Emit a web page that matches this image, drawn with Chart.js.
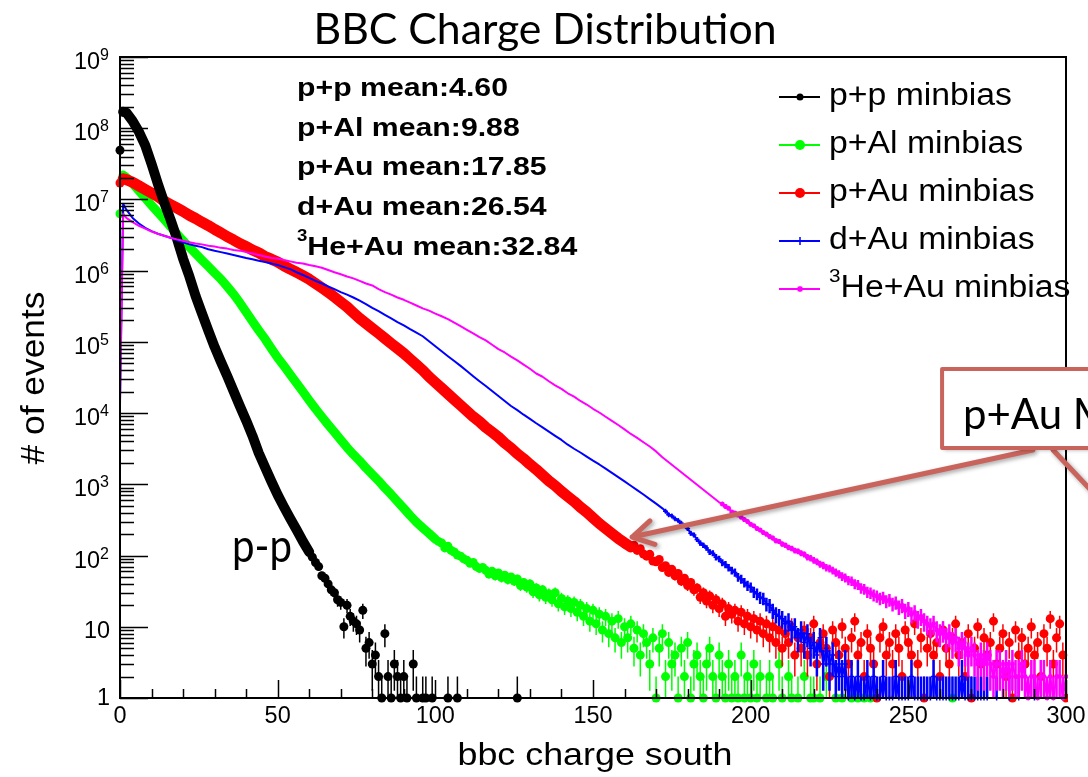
<!DOCTYPE html>
<html>
<head>
<meta charset="utf-8">
<title>BBC Charge Distribution</title>
<script src="https://cdn.jsdelivr.net/npm/chart.js@4.4.1/dist/chart.umd.min.js"></script>
<style>
  html, body { margin: 0; padding: 0; background: #ffffff; }
  canvas { display: block; }
</style>
</head>
<body>
<canvas id="bbc" width="1088" height="777"></canvas>
<script>
// ---- values: bbc charge south (x) vs # of events (y) ----

// p+p : smooth part drawn as a thick curve, the rest as markers with errors
const ppCurveX = [1, 2, 4, 6, 8, 10, 12, 14, 16, 18, 20, 22, 24, 26, 28, 30, 32, 34, 36, 38, 40,
  42, 44, 46, 48, 50, 52, 54, 56, 58, 60];
const ppCurveN = [1.7e8, 1.66e8, 1.26e8, 8.9e7, 5.75e7, 3.16e7, 1.66e7, 9.1e6, 5.25e6, 2.88e6, 1.48e6,
  8.3e5, 4.37e5, 2.51e5, 1.45e5, 8.5e4, 5.25e4, 3.31e4, 2.04e4, 1.26e4, 7.9e3,
  4.8e3, 2.75e3, 1.74e3, 1.1e3, 710, 480, 330, 230, 158, 112];
const ppPointX = [0, 60, 61, 62, 63, 64, 65, 66, 67, 68, 69, 70, 71, 72, 73, 74, 75, 76, 77, 78, 79,
  80, 81, 82, 83, 84, 85, 86, 87, 88, 89, 90, 91, 93, 94, 96, 97, 99, 104, 107, 126];
const ppPointN = [4.9e7, 112, 95, 80, 70, 52, 48, 40, 33, 30, 24, 22, 10, 20, 14, 12, 11, 9, 17, 5, 6,
  3, 4, 2, 1, 8, 2, 1, 3, 2, 1, 2, 1, 3, 1, 1, 1, 1, 1, 1, 1];

// p+Al
const alCurveX = [1, 2, 4, 6, 8, 10, 12, 14, 16, 18, 20, 22, 24, 26, 28, 30, 32, 34, 36, 38, 40,
  42, 44, 46, 48, 50, 52, 54, 56, 58, 60, 62, 64, 66, 68, 70, 72, 74, 76, 78, 80,
  82, 84, 86, 88, 90, 92, 94, 96, 98, 100];
const alCurveN = [2.2e7, 2.04e7, 1.66e7, 1.32e7, 1.05e7, 8.3e6, 6.6e6, 5.25e6, 4.17e6, 3.31e6, 2.63e6,
  2.14e6, 1.74e6, 1.41e6, 1.15e6, 9.3e5, 7.6e5, 6.0e5, 4.7e5, 3.55e5, 2.63e5,
  1.95e5, 1.45e5, 1.1e5, 8.1e4, 6.0e4, 4.6e4, 3.47e4, 2.63e4, 2.0e4, 1.51e4,
  1.15e4, 8.9e3, 6.9e3, 5.4e3, 4.2e3, 3.3e3, 2.63e3, 2.14e3, 1.7e3, 1.38e3,
  1.12e3, 890, 720, 575, 460, 365, 295, 245, 205, 170];
const alPointX = [0,
  101, 102, 103, 104, 105, 106, 107, 108, 109, 110, 111, 112, 113, 114, 115, 116, 117, 118, 119, 120,
  121, 122, 123, 124, 125, 126, 127, 128, 129, 130, 131, 132, 133, 134, 135, 136, 137, 138, 139, 140,
  141, 142, 143, 144, 145, 146, 147, 148, 149, 150, 151, 152, 153, 154, 155, 156, 157, 158, 159, 160,
  161, 162, 163, 164, 165, 166, 167, 168, 169, 170, 171, 172, 173, 174, 175, 176, 177, 178, 179, 180,
  181, 182, 183, 184, 185, 186, 187, 188, 189, 190, 191, 192, 193, 194, 195, 196, 197, 198, 199, 200,
  201, 202, 203, 205, 206, 207, 209, 210, 212, 213, 215, 217, 219, 220, 222, 224, 227, 229, 232, 234,
  236, 238, 264];
const alPointN = [6.3e6,
  158, 150, 128, 135, 118, 112, 102, 98, 90, 86, 78, 80, 70, 66, 68, 62, 55, 60, 52, 57,
  49, 53, 46, 50, 44, 47, 38, 42, 36, 40, 31, 35, 28, 33, 26, 29, 24, 30, 21, 25,
  19, 23, 18, 22, 16, 20, 14, 18, 12, 17, 11, 15, 9, 14, 8, 12, 7, 13, 6, 10,
  7, 11, 5, 9, 4, 8, 6, 3, 7, 1, 5, 8, 2, 6, 3, 4, 1, 5, 2, 6,
  1, 3, 4, 2, 1, 3, 5, 2, 1, 4, 2, 1, 3, 1, 2, 1, 4, 1, 2, 1,
  3, 1, 2, 1, 2, 1, 3, 1, 2, 1, 1, 2, 1, 1, 1, 2, 1, 1, 1, 1,
  1, 1, 1];

// p+Au
const auCurveX = [1, 2, 4, 6, 8, 10, 12, 14, 16, 18, 20, 22, 24, 26, 28, 30, 32, 34, 36, 38, 40,
  42, 44, 46, 48, 50, 52, 54, 56, 58, 60, 62, 64, 66, 68, 70, 72, 74, 76, 78, 80,
  82, 84, 86, 88, 90, 92, 94, 96, 98, 100, 102, 104, 106, 108, 110, 112, 114, 116, 118, 120,
  122, 124, 126, 128, 130, 132, 134, 136, 138, 140, 142, 144, 146, 148, 150, 152, 154, 156, 158, 160, 162];
const auCurveN = [1.95e7, 1.9e7, 1.74e7, 1.55e7, 1.38e7, 1.23e7, 1.1e7, 9.5e6, 8.5e6, 7.6e6, 6.8e6,
  6.0e6, 5.4e6, 4.8e6, 4.3e6, 3.8e6, 3.4e6, 3.0e6, 2.7e6, 2.4e6, 2.19e6,
  1.95e6, 1.78e6, 1.58e6, 1.45e6, 1.32e6, 1.17e6, 1.05e6, 9.5e5, 8.5e5, 7.6e5,
  6.6e5, 5.75e5, 5.0e5, 4.27e5, 3.63e5, 3.1e5, 2.57e5, 2.14e5, 1.82e5, 1.55e5,
  1.32e5, 1.12e5, 9.5e4, 8.1e4, 6.9e4, 5.75e4, 4.8e4, 4.0e4, 3.24e4, 2.69e4,
  2.24e4, 1.86e4, 1.55e4, 1.29e4, 1.07e4, 8.9e3, 7.6e3, 6.3e3, 5.4e3, 4.6e3,
  3.8e3, 3.24e3, 2.69e3, 2.29e3, 1.91e3, 1.62e3, 1.35e3, 1.12e3, 955, 795,
  676, 575, 479, 407, 339, 282, 240, 204, 174, 151, 132];
const auPointX = [0,
  163, 164, 165, 166, 167, 168, 169, 170, 171, 172, 173, 174, 175, 176, 177, 178, 179, 180, 181, 182,
  183, 184, 185, 186, 187, 188, 189, 190, 191, 192, 193, 194, 195, 196, 197, 198, 199, 200, 201, 202,
  203, 204, 205, 206, 207, 208, 209, 210, 211, 212, 213, 214, 215, 216, 217, 218, 219, 220, 221, 222,
  223, 224, 225, 226, 227, 228, 229, 230, 231, 232, 233, 234, 235, 236, 237, 238, 239, 240, 241, 242,
  243, 244, 245, 246, 247, 248, 249, 250, 251, 252, 253, 254, 255, 256, 257, 258, 259, 260, 261, 262,
  263, 264, 265, 266, 267, 268, 269, 270, 271, 272, 273, 274, 275, 276, 277, 278, 279, 280, 281, 282,
  283, 284, 285, 286, 287, 288, 289, 290, 291, 292, 293, 294, 295, 296, 297, 298, 299, 300];
const auPointN = [1.7e7,
  140, 118, 125, 105, 98, 104, 84, 82, 88, 68, 72, 58, 64, 52, 56, 44, 48, 38, 42, 33,
  35, 26, 30, 23, 27, 20, 24, 18, 21, 14, 18, 15, 17, 12, 16, 11, 14, 10, 13, 9,
  12, 8, 11, 7, 10, 6, 9, 5, 8, 6, 10, 4, 7, 5, 9, 4, 7, 11, 3, 6,
  8, 5, 2, 9, 6, 4, 10, 5, 3, 7, 12, 4, 6, 2, 8, 5, 3, 1, 7, 10,
  4, 6, 3, 8, 5, 2, 9, 6, 4, 11, 3, 7, 1, 5, 8, 4, 6, 2, 9, 5,
  3, 7, 11, 4, 6, 2, 8, 1, 5, 10, 3, 7, 4, 6, 12, 3, 5, 8, 2, 6,
  1, 9, 4, 7, 3, 5, 10, 4, 6, 2, 8, 5, 13, 3, 7, 11, 4, 1];

// d+Au : thin line, the tail continues the line
const daCurveX = [0, 1, 2, 4, 6, 8, 10, 12, 14, 16, 18, 20, 22, 24, 26, 28, 30, 32, 34, 36, 38, 40,
  42, 44, 46, 48, 50, 52, 54, 56, 58, 60, 62, 64, 66, 68, 70, 72, 74, 76, 78, 80,
  82, 84, 86, 88, 90, 92, 94, 96, 98, 100, 102, 104, 106, 108, 110, 112, 114, 116, 118, 120,
  122, 124, 126, 128, 130, 132, 134, 136, 138, 140, 142, 144, 146, 148, 150, 152, 154, 156, 158, 160,
  162, 164, 166, 168, 170, 172];
const daCurveN = [1.5e4, 8.7e6, 7.2e6, 5.5e6, 4.6e6, 4.0e6, 3.6e6, 3.3e6, 3.1e6, 2.9e6, 2.7e6, 2.5e6,
  2.34e6, 2.24e6, 2.14e6, 2.0e6, 1.9e6, 1.82e6, 1.74e6, 1.66e6, 1.58e6, 1.51e6,
  1.45e6, 1.38e6, 1.32e6, 1.26e6, 1.2e6, 1.12e6, 1.05e6, 9.5e5, 8.7e5, 7.9e5,
  7.2e5, 6.6e5, 6.0e5, 5.5e5, 5.0e5, 4.6e5, 4.2e5, 3.8e5, 3.4e5, 3.0e5,
  2.7e5, 2.4e5, 2.14e5, 1.9e5, 1.7e5, 1.51e5, 1.35e5, 1.2e5, 1.02e5, 8.7e4,
  7.4e4, 6.3e4, 5.4e4, 4.6e4, 3.9e4, 3.3e4, 2.8e4, 2.4e4, 2.04e4, 1.74e4,
  1.48e4, 1.26e4, 1.1e4, 9.5e3, 8.3e3, 7.2e3, 6.3e3, 5.5e3, 4.8e3, 4.2e3,
  3.6e3, 3.16e3, 2.8e3, 2.45e3, 2.15e3, 1.9e3, 1.66e3, 1.45e3, 1.26e3, 1.1e3,
  955, 830, 720, 620, 535, 460];
const daPointX = [
  173, 174, 175, 176, 177, 178, 179, 180, 181, 182, 183, 184, 185, 186, 187, 188, 189, 190, 191, 192,
  193, 194, 195, 196, 197, 198, 199, 200, 201, 202, 203, 204, 205, 206, 207, 208, 209, 210, 211, 212,
  213, 214, 215, 216, 217, 218, 219, 220, 221, 222, 223, 224, 225, 226, 227, 228, 229, 230, 231, 232,
  233, 234, 235, 236, 237, 238, 239, 240, 241, 242, 243, 244, 245, 246, 247, 248, 249, 250, 251, 252,
  253, 254, 255, 256, 257, 258, 259, 260, 261, 262, 263, 264, 265, 266, 267, 268, 269, 270, 271, 272,
  273, 274, 275, 278, 282, 285, 290];
const daPointN = [
  420, 375, 360, 330, 310, 285, 262, 240, 205, 195, 168, 150, 140, 128, 112, 108, 95, 90, 80, 75,
  68, 62, 58, 50, 47, 42, 38, 36, 31, 29, 26, 25, 21, 20, 17, 15, 14, 13, 11, 12,
  9, 10, 7, 9, 6, 8, 5, 6, 4, 7, 3, 5, 3, 4, 2, 3, 2, 3, 1, 2,
  1, 2, 1, 1, 2, 1, 2, 1, 1, 2, 1, 1, 1, 2, 1, 1, 1, 1, 2, 1,
  1, 1, 1, 1, 1, 2, 1, 1, 1, 1, 1, 1, 1, 1, 2, 1, 1, 1, 1, 1,
  1, 1, 1, 1, 1, 1, 1];

// 3He+Au : thin line, the tail continues the line
const heCurveX = [0, 1, 2, 4, 6, 8, 10, 12, 14, 16, 18, 20, 22, 24, 26, 28, 30, 32, 34, 36, 38, 40,
  42, 44, 46, 48, 50, 52, 54, 56, 58, 60, 62, 64, 66, 68, 70, 72, 74, 76, 78, 80,
  82, 84, 86, 88, 90, 92, 94, 96, 98, 100, 102, 104, 106, 108, 110, 112, 114, 116, 118, 120,
  122, 124, 126, 128, 130, 132, 134, 136, 138, 140, 142, 144, 146, 148, 150, 152, 154, 156, 158, 160,
  162, 164, 166, 168, 170, 172, 174, 176, 178, 180, 182, 184, 186, 188, 190];
const heCurveN = [1.3e4, 6.3e6, 5.5e6, 4.8e6, 4.27e6, 3.9e6, 3.55e6, 3.3e6, 3.1e6, 2.9e6, 2.75e6, 2.63e6,
  2.5e6, 2.4e6, 2.34e6, 2.24e6, 2.19e6, 2.09e6, 2.04e6, 1.95e6, 1.91e6, 1.82e6,
  1.74e6, 1.66e6, 1.58e6, 1.51e6, 1.48e6, 1.41e6, 1.35e6, 1.29e6, 1.26e6, 1.2e6,
  1.15e6, 1.1e6, 1.02e6, 9.5e5, 8.9e5, 8.3e5, 7.8e5, 7.2e5, 6.6e5, 6.2e5,
  5.5e5, 5.0e5, 4.6e5, 4.2e5, 3.9e5, 3.55e5, 3.24e5, 2.95e5, 2.75e5, 2.5e5,
  2.29e5, 2.09e5, 1.86e5, 1.66e5, 1.48e5, 1.32e5, 1.17e5, 1.05e5, 9.1e4, 7.9e4,
  7.1e4, 6.2e4, 5.5e4, 4.8e4, 4.2e4, 3.6e4, 3.24e4, 2.8e4, 2.45e4, 2.19e4,
  1.9e4, 1.7e4, 1.48e4, 1.32e4, 1.15e4, 1.02e4, 8.9e3, 7.8e3, 6.8e3, 5.9e3,
  5.1e3, 4.5e3, 3.9e3, 3.4e3, 2.9e3, 2.4e3, 2.04e3, 1.74e3, 1.48e3, 1.26e3,
  1.07e3, 910, 775, 660, 560];
const hePointX = [
  191, 192, 193, 194, 195, 196, 197, 198, 199, 200, 201, 202, 203, 204, 205, 206, 207, 208, 209, 210,
  211, 212, 213, 214, 215, 216, 217, 218, 219, 220, 221, 222, 223, 224, 225, 226, 227, 228, 229, 230,
  231, 232, 233, 234, 235, 236, 237, 238, 239, 240, 241, 242, 243, 244, 245, 246, 247, 248, 249, 250,
  251, 252, 253, 254, 255, 256, 257, 258, 259, 260, 261, 262, 263, 264, 265, 266, 267, 268, 269, 270,
  271, 272, 273, 274, 275, 276, 277, 278, 279, 280, 281, 282, 283, 284, 285, 286, 287, 288, 289, 290,
  291, 292, 293, 294, 295, 296, 297, 298, 299, 300];
const hePointN = [
  530, 490, 460, 410, 395, 370, 345, 320, 300, 275, 262, 240, 228, 210, 200, 185, 176, 162, 158, 145,
  140, 130, 126, 118, 115, 108, 104, 95, 92, 86, 82, 76, 73, 68, 66, 62, 58, 55, 51, 49,
  45, 44, 40, 39, 35, 34, 31, 30, 28, 27, 25, 26, 23, 24, 21, 22, 19, 20, 17, 18,
  15, 16, 13, 14, 12, 11, 10, 11, 9, 8, 9, 7, 8, 6, 7, 5, 6, 5, 4, 5,
  4, 3, 4, 3, 4, 3, 2, 3, 3, 2, 3, 2, 3, 2, 2, 3, 2, 1, 2, 2,
  1, 2, 2, 1, 2, 1, 2, 2, 1, 2];

// text on the plot
const xTicks = [0, 50, 100, 150, 200, 250, 300];
const yDecades = [0, 1, 2, 3, 4, 5, 6, 7, 8, 9];
const meanLines = ['p+p mean:4.60', 'p+Al mean:9.88', 'p+Au mean:17.85', 'd+Au mean:26.54', '^{3}He+Au mean:32.84'];

const SERIES = [
  { label: 'p+p minbias', color: '#000000', curveX: ppCurveX, curveN: ppCurveN, pointX: ppPointX, pointN: ppPointN,
    width: 10, joined: false, marker: 'circle', radius: 4.5, errWidth: 1.5, order: 2, legendRadius: 3.5 },
  { label: 'p+Al minbias', color: '#00ff00', curveX: alCurveX, curveN: alCurveN, pointX: alPointX, pointN: alPointN,
    width: 9, joined: false, marker: 'circle', radius: 4.5, errWidth: 1.5, order: 4, legendRadius: 5 },
  { label: 'p+Au minbias', color: '#ff0000', curveX: auCurveX, curveN: auCurveN, pointX: auPointX, pointN: auPointN,
    width: 11, joined: false, marker: 'circle', radius: 4.5, errWidth: 1.5, order: 3, legendRadius: 5 },
  { label: 'd+Au minbias', color: '#0000ff', curveX: daCurveX, curveN: daCurveN, pointX: daPointX, pointN: daPointN,
    width: 2, joined: true, marker: 'cross', radius: 2.5, errWidth: 2.5, order: 1, legendRadius: 4 },
  { label: '^{3}He+Au minbias', color: '#ff00ff', curveX: heCurveX, curveN: heCurveN, pointX: hePointX, pointN: hePointN,
    width: 2, joined: true, marker: 'star', radius: 2.5, errWidth: 2.5, order: 0, legendRadius: 3 },
];

const ROOT_FONT = '"Liberation Sans", Arial, Helvetica, sans-serif';
const PPT_FONT = 'Lato, "Open Sans", sans-serif';
const CALLOUT_RED = '#c9645d';

function pts(xs, ns) {
  return xs.map((x, i) => ({ x: x, y: ns[i] }));
}

const datasets = [];
SERIES.forEach(s => {
  const lineData = s.joined ? pts(s.curveX, s.curveN).concat(pts(s.pointX, s.pointN)) : pts(s.curveX, s.curveN);
  datasets.push({
    label: s.label,
    data: lineData,
    showLine: true,
    borderColor: s.color,
    backgroundColor: s.color,
    borderWidth: s.width,
    borderCapStyle: 'round',
    borderJoinStyle: 'round',
    pointRadius: 0,
    order: s.order,
    clip: { left: 8, top: 0, right: 2, bottom: 8 },
  });
  datasets.push({
    label: s.label + ' points',
    data: pts(s.pointX, s.pointN),
    showLine: false,
    pointStyle: s.marker,
    pointRadius: s.radius,
    pointBorderWidth: s.marker === 'circle' ? 0 : 1.5,
    pointBackgroundColor: s.color,
    pointBorderColor: s.color,
    borderColor: s.color,
    errorBars: true,
    errWidth: s.errWidth,
    order: s.order,
    clip: { left: 8, top: 0, right: 2, bottom: 8 },
  });
});

// text with ^{..} superscripts, optionally squeezed / stretched horizontally
function richText(ctx, str, x, y, o) {
  const parts = str.split(/\^\{([^}]*)\}/);
  const main = (o.weight || 'normal') + ' ' + o.size + 'px ' + o.family;
  const sup = (o.weight || 'normal') + ' ' + Math.round(o.size * (o.supRatio || 0.62)) + 'px ' + o.family;
  const sx = o.sx || 1;
  let w = 0;
  parts.forEach((p, i) => { ctx.font = i % 2 ? sup : main; w += ctx.measureText(p).width; });
  w *= sx;
  let cx = o.align === 'center' ? x - w / 2 : (o.align === 'right' ? x - w : x);
  ctx.save();
  ctx.fillStyle = o.color || '#000000';
  ctx.textAlign = 'left';
  ctx.textBaseline = 'alphabetic';
  parts.forEach((p, i) => {
    ctx.font = i % 2 ? sup : main;
    ctx.save();
    ctx.translate(cx, i % 2 ? y - (o.rise || 0) : y);
    ctx.scale(sx, 1);
    ctx.fillText(p, 0, 0);
    ctx.restore();
    cx += ctx.measureText(p).width * sx;
  });
  ctx.restore();
  return w;
}

function fitScale(ctx, str, o, width) {
  ctx.font = (o.weight || 'normal') + ' ' + o.size + 'px ' + o.family;
  return width / ctx.measureText(str).width;
}

function drawMarker(ctx, style, r, x, y, color) {
  ctx.save();
  ctx.fillStyle = color;
  ctx.strokeStyle = color;
  ctx.lineWidth = 1.5;
  if (style === 'circle') {
    ctx.beginPath(); ctx.arc(x, y, r, 0, Math.PI * 2); ctx.fill();
  } else {
    ctx.beginPath();
    ctx.moveTo(x - r, y); ctx.lineTo(x + r, y);
    ctx.moveTo(x, y - r); ctx.lineTo(x, y + r);
    if (style === 'star') {
      const d = r * 0.75;
      ctx.moveTo(x - d, y - d); ctx.lineTo(x + d, y + d);
      ctx.moveTo(x - d, y + d); ctx.lineTo(x + d, y - d);
    }
    ctx.stroke();
  }
  ctx.restore();
}

// vertical sqrt(N) error bars for the marker datasets
const errorBarPlugin = {
  id: 'errorBars',
  afterDatasetDraw(chart, args) {
    const ds = chart.data.datasets[args.index];
    if (!ds.errorBars) return;
    const { ctx, chartArea: a } = chart;
    const xs = chart.scales.x, ys = chart.scales.y;
    ctx.save();
    ctx.beginPath();
    ctx.rect(a.left, a.top, a.right - a.left, a.bottom - a.top);
    ctx.clip();
    ctx.strokeStyle = ds.borderColor;
    ctx.lineWidth = ds.errWidth;
    ctx.beginPath();
    ds.data.forEach(p => {
      const e = Math.sqrt(p.y);
      const px = xs.getPixelForValue(p.x);
      const top = ys.getPixelForValue(p.y + e);
      const bot = p.y - e > 0.5 ? ys.getPixelForValue(p.y - e) : a.bottom;
      ctx.moveTo(px, top);
      ctx.lineTo(px, Math.min(bot, a.bottom));
    });
    ctx.stroke();
    ctx.restore();
  }
};

// frame, ticks, labels, legend and the slide annotations
const decorPlugin = {
  id: 'decor',
  afterDraw(chart) {
    const { ctx, chartArea: a } = chart;
    const xs = chart.scales.x, ys = chart.scales.y;

    // ROOT frame and inward ticks
    ctx.save();
    ctx.strokeStyle = '#000000';
    ctx.lineWidth = 2;
    ctx.strokeRect(a.left, a.top, a.right - a.left, a.bottom - a.top);
    ctx.lineWidth = 1.5;
    ctx.beginPath();
    for (let v = 0; v <= 300; v += 10) {
      const px = Math.round(xs.getPixelForValue(v)) + 0.5;
      const len = v % 50 === 0 ? 18 : 9;
      ctx.moveTo(px, a.bottom); ctx.lineTo(px, a.bottom - len);
    }
    yDecades.forEach(d => {
      const py = Math.round(ys.getPixelForValue(Math.pow(10, d))) + 0.5;
      ctx.moveTo(a.left, py); ctx.lineTo(a.left + 28, py);
      if (d < 9) {
        for (let k = 2; k <= 9; k++) {
          const pm = Math.round(ys.getPixelForValue(k * Math.pow(10, d))) + 0.5;
          ctx.moveTo(a.left, pm); ctx.lineTo(a.left + 14, pm);
        }
      }
    });
    ctx.stroke();
    ctx.restore();

    // tick labels
    const tickFont = { size: 23, family: ROOT_FONT, sx: 1.02 };
    xTicks.forEach(v => {
      richText(ctx, String(v), xs.getPixelForValue(v), a.bottom + 25, Object.assign({ align: 'center' }, tickFont));
    });
    yDecades.forEach(d => {
      const py = ys.getPixelForValue(Math.pow(10, d));
      if (d === 0) {
        richText(ctx, '1', a.left - 10, py + 7, Object.assign({ align: 'right' }, tickFont));
      } else if (d === 1) {
        richText(ctx, '10', a.left - 10, py + 11, Object.assign({ align: 'right' }, tickFont));
      } else {
        richText(ctx, '10', a.left - 20, py + 12, Object.assign({ align: 'right' }, tickFont));
        richText(ctx, String(d), a.left - 20, py + 3, { size: 16, family: ROOT_FONT, align: 'left' });
      }
    });

    // axis titles
    const xt = { size: 32, family: ROOT_FONT };
    xt.sx = fitScale(ctx, 'bbc charge south', xt, 275);
    xt.align = 'center';
    richText(ctx, 'bbc charge south', 595, 765, xt);
    const yt = { size: 34, family: ROOT_FONT };
    yt.sx = fitScale(ctx, '# of events', yt, 173);
    yt.align = 'center';
    ctx.save();
    ctx.translate(44, 378);
    ctx.rotate(-Math.PI / 2);
    richText(ctx, '# of events', 0, 0, yt);
    ctx.restore();

    // slide title
    const tt = { size: 42, family: PPT_FONT };
    tt.sx = fitScale(ctx, 'BBC Charge Distribution', tt, 463);
    tt.align = 'center';
    richText(ctx, 'BBC Charge Distribution', 545, 44, tt);

    // mean values
    const mt = { size: 26, weight: 'bold', family: ROOT_FONT, supRatio: 0.62, rise: 14 };
    mt.sx = fitScale(ctx, meanLines[0], mt, 211);
    meanLines.forEach((s, i) => richText(ctx, s, 297, 96 + i * 39.7, mt));

    // legend
    const lt = { size: 31, family: ROOT_FONT, supRatio: 0.62, rise: 15 };
    lt.sx = fitScale(ctx, 'p+p minbias', lt, 183);
    SERIES.forEach((s, i) => {
      const ly = 97 + i * 48;
      ctx.save();
      ctx.strokeStyle = s.color;
      ctx.lineWidth = 2;
      ctx.beginPath(); ctx.moveTo(779, ly); ctx.lineTo(820, ly); ctx.stroke();
      ctx.restore();
      drawMarker(ctx, s.marker, s.legendRadius, 800, ly, s.color);
      richText(ctx, s.label, 829, ly + 8, lt);
    });

    // "p-p" label next to the p+p tail
    const pp = { size: 46, family: PPT_FONT };
    pp.sx = fitScale(ctx, 'p-p', pp, 60);
    richText(ctx, 'p-p', xs.getPixelForValue(35.5), ys.getPixelForValue(81), pp);

    // callout box with arrow onto the p+Au curve
    const bx = xs.getPixelForValue(260.7);
    const bt = ys.getPixelForValue(4.16e4);
    const bb = ys.getPixelForValue(3236);
    const from = { x: xs.getPixelForValue(289.5), y: ys.getPixelForValue(3035) };
    const tip = { x: xs.getPixelForValue(162.4), y: ys.getPixelForValue(182) };
    const from2 = { x: xs.getPixelForValue(295.9), y: ys.getPixelForValue(3035) };
    const to2 = { x: xs.getPixelForValue(310.8), y: ys.getPixelForValue(603) };

    ctx.save();
    ctx.shadowColor = 'rgba(0,0,0,0.35)';
    ctx.shadowBlur = 4;
    ctx.shadowOffsetX = 2;
    ctx.shadowOffsetY = 2;
    ctx.strokeStyle = CALLOUT_RED;
    ctx.lineWidth = 5;
    ctx.lineCap = 'round';
    ctx.lineJoin = 'round';
    ctx.beginPath();
    ctx.moveTo(from.x, from.y); ctx.lineTo(tip.x, tip.y);
    const ang = Math.atan2(tip.y - from.y, tip.x - from.x);
    const wing = 24, spread = Math.PI / 6;
    ctx.moveTo(tip.x - wing * Math.cos(ang - spread), tip.y - wing * Math.sin(ang - spread));
    ctx.lineTo(tip.x, tip.y);
    ctx.lineTo(tip.x - wing * Math.cos(ang + spread), tip.y - wing * Math.sin(ang + spread));
    ctx.moveTo(from2.x, from2.y); ctx.lineTo(to2.x, to2.y);
    ctx.stroke();
    ctx.fillStyle = '#ffffff';
    ctx.fillRect(bx, bt, 220, bb - bt);
    ctx.shadowColor = 'rgba(0,0,0,0)';
    ctx.lineWidth = 4;
    ctx.lineCap = 'butt';
    ctx.strokeRect(bx, bt, 220, bb - bt);
    ctx.restore();
    richText(ctx, 'p+Au M', xs.getPixelForValue(267.3), ys.getPixelForValue(5984), { size: 42, family: PPT_FONT });
  }
};

const chart = new Chart(document.getElementById('bbc'), {
  type: 'scatter',
  data: { datasets: datasets },
  options: {
    responsive: false,
    animation: false,
    devicePixelRatio: 1,
    layout: { padding: { left: 120, right: 22, top: 57, bottom: 79 } },
    plugins: {
      legend: { display: false },
      tooltip: { enabled: false },
    },
    elements: { line: { tension: 0 } },
    scales: {
      x: { type: 'linear', min: 0, max: 300, display: false },
      y: { type: 'logarithmic', min: 1, max: 1e9, display: false },
    },
  },
  plugins: [errorBarPlugin, decorPlugin],
});
</script>
</body>
</html>
